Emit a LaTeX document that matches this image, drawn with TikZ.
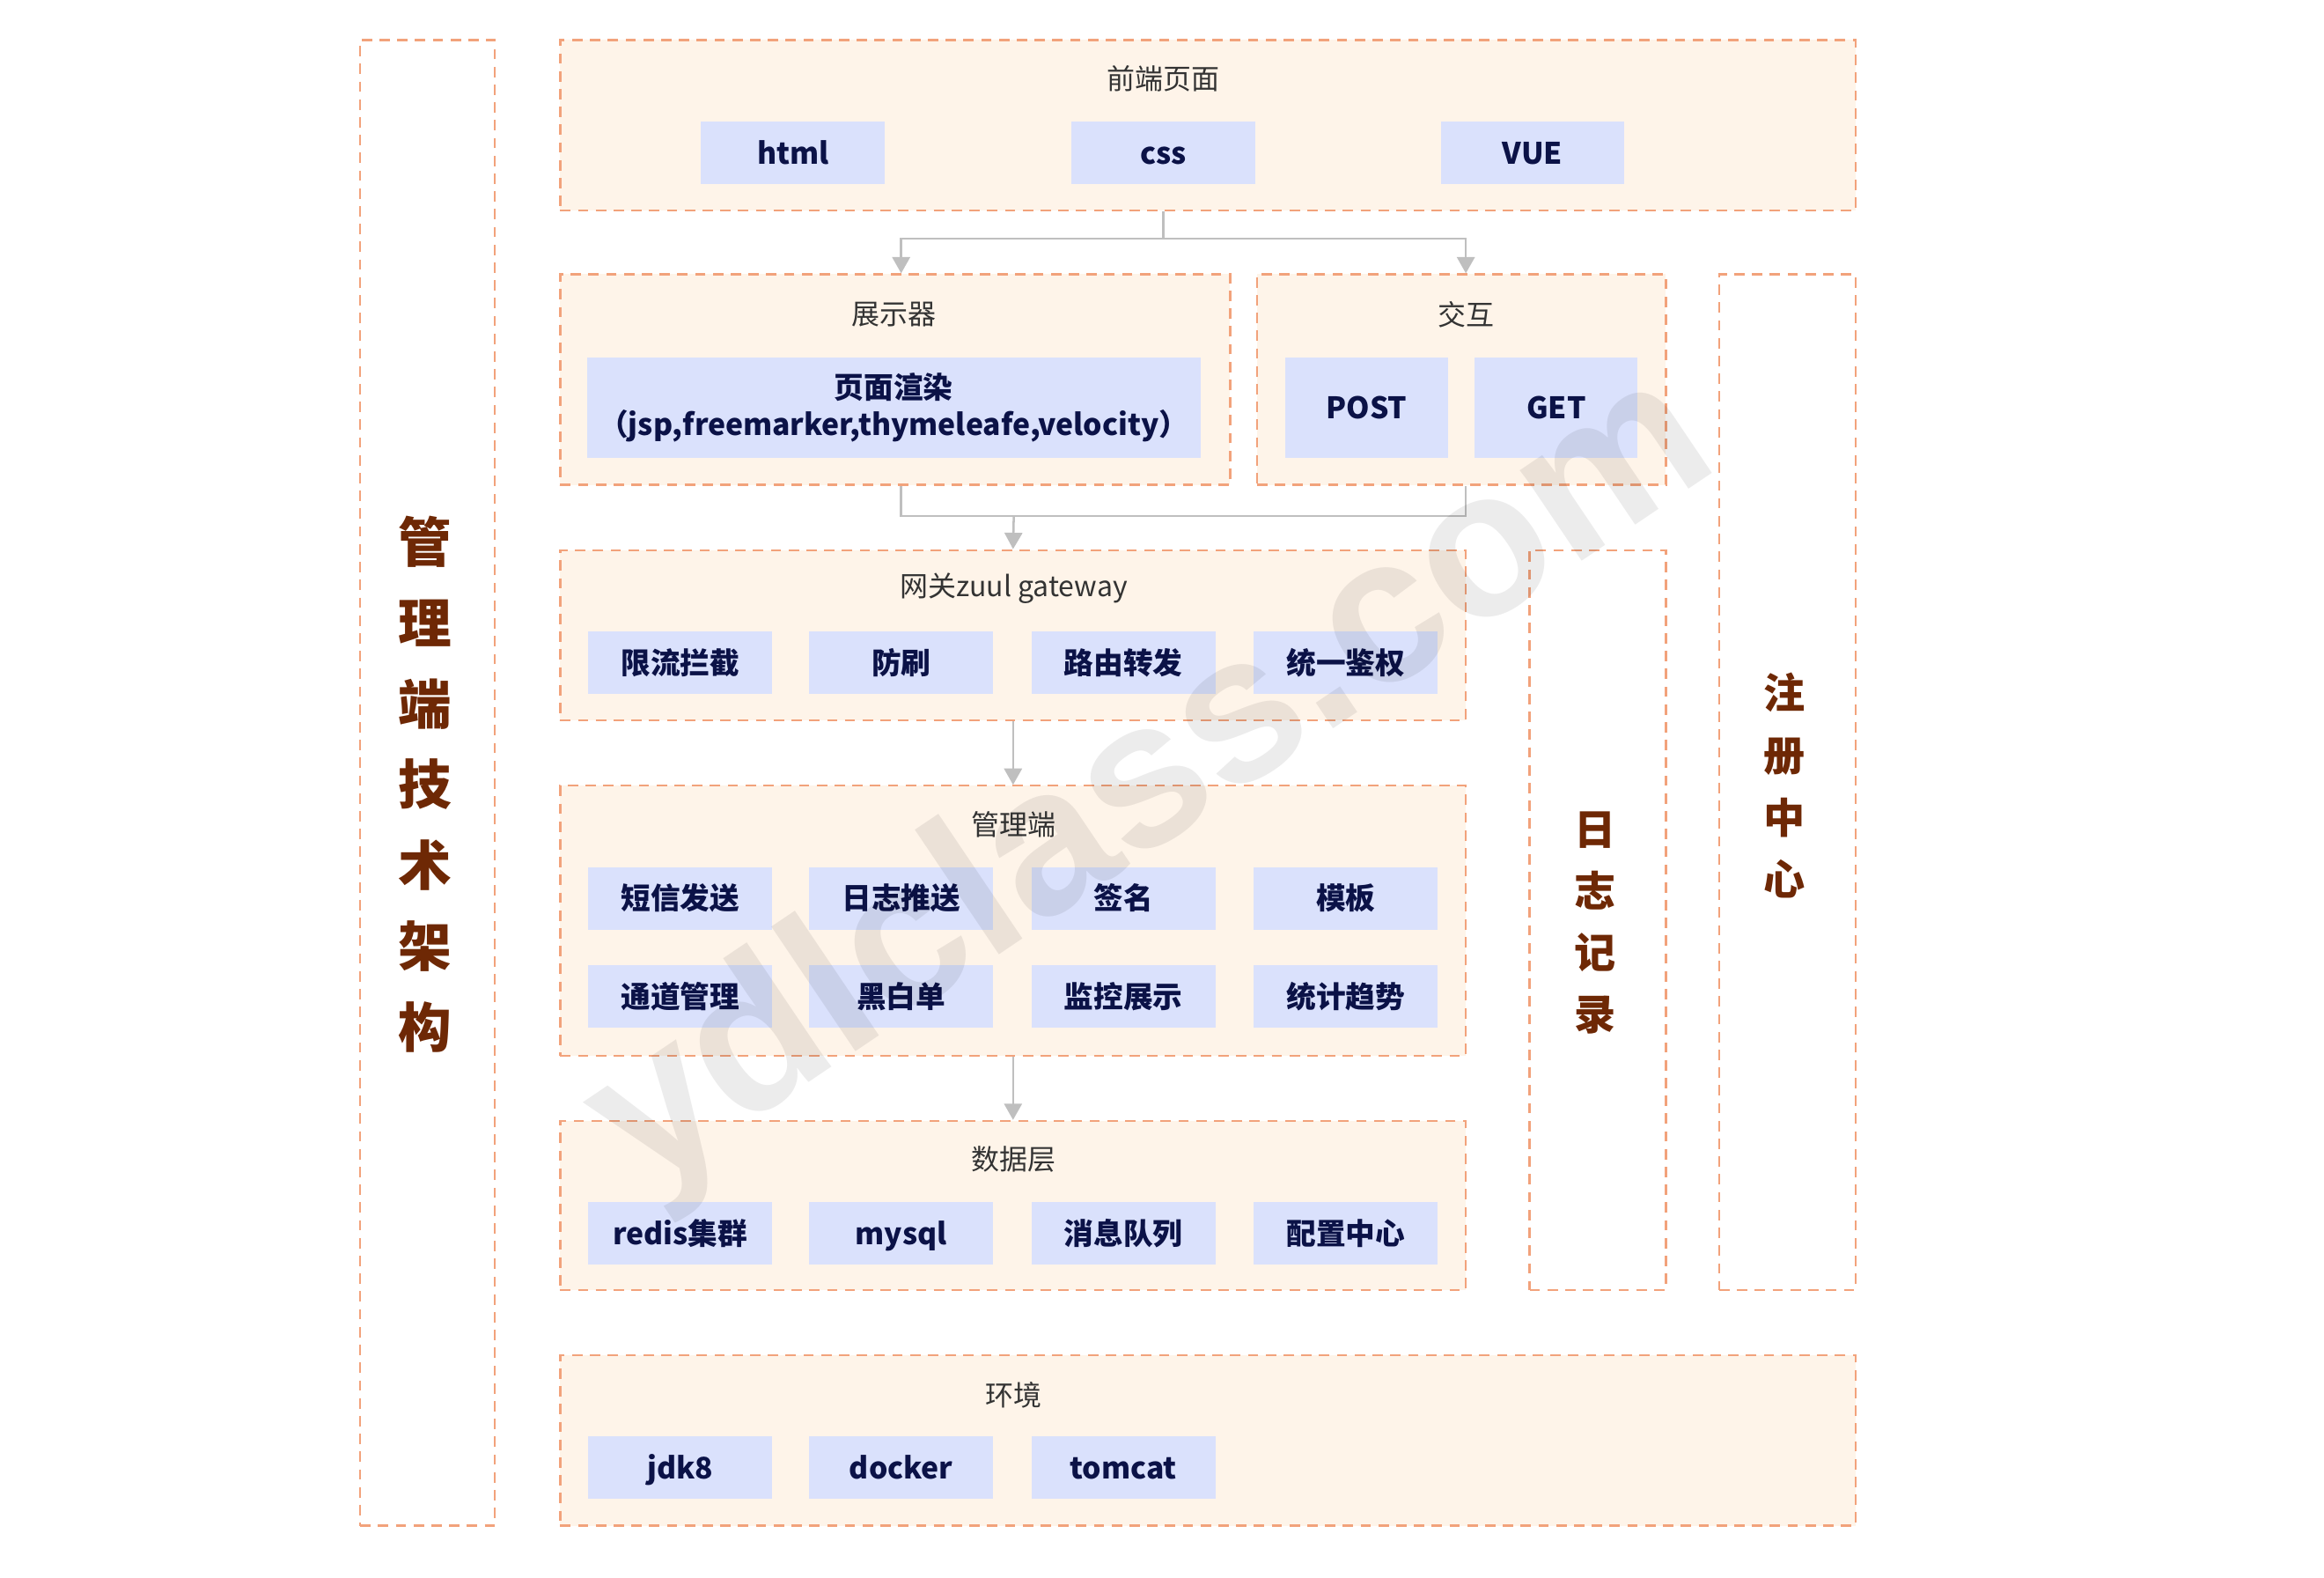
\documentclass[tikz,border=0pt]{standalone}
\usepackage{fontspec}
\setmainfont{Noto Sans CJK SC}
\newfontfamily\markfont{Liberation Sans}
\usetikzlibrary{arrows.meta}

\definecolor{layerfill}{HTML}{FEF4E9}
\definecolor{layerline}{HTML}{F2A27B}
\definecolor{itemfill}{HTML}{DAE1FC}
\definecolor{itemtext}{HTML}{0B1247}
\definecolor{sidetext}{HTML}{6E2805}
\definecolor{linkgray}{HTML}{BFBFBF}

\tikzset{
  layer/.style={draw=layerline, line width=1.3pt, dash pattern=on 7pt off 5pt,
    fill=layerfill, inner sep=0pt},
  sidebox/.style={draw=layerline, line width=1.3pt, dash pattern=on 7pt off 5pt,
    inner sep=0pt},
  itembase/.style={fill=itemfill, text=itemtext, inner sep=0pt,
    font=\fontsize{20}{25}\selectfont\bfseries,
    minimum width=124pt, minimum height=42pt},
  item/.style={itembase, text height=17.5pt, text depth=2.5pt},
  title/.style={text=black!80, font=\fontsize{19}{23}\selectfont},
  sidetitle/.style={text=sidetext, align=center},
  link/.style={draw=linkgray, line width=1.5pt},
  arr/.style={link, -{Triangle[length=11pt,width=12pt]}}
}

\begin{document}
\begin{tikzpicture}[x=1pt, y=-1pt]
  \useasboundingbox (0,0) rectangle (1568,1064);
  % layers
  \node [sidebox, minimum width=91pt, minimum height=1002pt] (mgmt) at (288.5,528) {};
  \node [layer, minimum width=874pt, minimum height=115pt] (front) at (815,84.5) {};
  \node [layer, minimum width=452pt, minimum height=142pt] (disp) at (604,256) {};
  \node [layer, minimum width=276pt, minimum height=142pt] (inter) at (986,256) {};
  \node [sidebox, minimum width=92pt, minimum height=685pt] (reg) at (1206,527.5) {};
  \node [layer, minimum width=611pt, minimum height=115pt] (gate) at (683.5,428.5) {};
  \node [sidebox, minimum width=92pt, minimum height=499pt] (log) at (1078,620.5) {};
  \node [layer, minimum width=611pt, minimum height=182pt] (admin) at (683.5,621) {};
  \node [layer, minimum width=611pt, minimum height=114pt] (data) at (683.5,813) {};
  \node [layer, minimum width=874pt, minimum height=115pt] (env) at (815,971.5) {};
  % layer titles
  \node [title] (fronttitle) at (785,53) {前端页面};
  \node [title] (disptitle) at (603,212) {展示器};
  \node [title] (intertitle) at (989,212) {交互};
  \node [title] (gatetitle) at (684,397) {网关zuul gateway};
  \node [title] (admintitle) at (684,556) {管理端};
  \node [title] (datatitle) at (684,782) {数据层};
  \node [title] (envtitle) at (684,941) {环境};
  % front end
  \node [item] (html) at (535,103) {html};
  \node [item] (css) at (785,103) {css};
  \node [item] (vue) at (1034,103) {VUE};
  % view and interaction
  \node [itembase, minimum width=414pt, minimum height=68pt, align=center] (render) at (603,275)
    {页面渲染\\（jsp,freemarker,thymeleafe,velocity）};
  \node [item, minimum width=110pt, minimum height=68pt] (post) at (922,275) {POST};
  \node [item, minimum width=110pt, minimum height=68pt] (get) at (1050,275) {GET};
  % gateway
  \node [item] (limit) at (459,447) {限流拦截};
  \node [item] (antibrush) at (608,447) {防刷};
  \node [item] (route) at (758,447) {路由转发};
  \node [item] (auth) at (908,447) {统一鉴权};
  % admin
  \node [item] (sms) at (459,606) {短信发送};
  \node [item] (logpush) at (608,606) {日志推送};
  \node [item] (sign) at (758,606) {签名};
  \node [item] (tpl) at (908,606) {模板};
  \node [item] (channel) at (459,672) {通道管理};
  \node [item] (blacklist) at (608,672) {黑白单};
  \node [item] (monitor) at (758,672) {监控展示};
  \node [item] (stats) at (908,672) {统计趋势};
  % data
  \node [item] (redis) at (459,832) {redis集群};
  \node [item] (mysql) at (608,832) {mysql};
  \node [item] (mq) at (758,832) {消息队列};
  \node [item] (config) at (908,832) {配置中心};
  % environment
  \node [item] (jdk) at (459,990) {jdk8};
  \node [item] (docker) at (608,990) {docker};
  \node [item] (tomcat) at (758,990) {tomcat};
  % side titles
  \node [sidetitle, font=\fontsize{36}{54.5}\selectfont\bfseries] (mgmttitle) at (287,529)
    {管\\理\\端\\技\\术\\架\\构};
  \node [sidetitle, font=\fontsize{28}{41.7}\selectfont\bfseries] (logtitle) at (1076,622.5)
    {日\\志\\记\\录};
  \node [sidetitle, font=\fontsize{28}{42}\selectfont\bfseries] (regtitle) at (1204,530)
    {注\\册\\中\\心};
  % connectors
  \coordinate (fork) at (785,161);
  \coordinate (join) at (684,348);
  \coordinate (dispin) at ([xshift=4pt]disp.north);
  \coordinate (dispout) at ([xshift=4pt]disp.south);
  \coordinate (interin) at ([xshift=3pt]inter.north);
  \coordinate (interout) at ([xshift=3pt]inter.south);
  \draw [link] (css |- front.south) -- (fork);
  \draw [arr] (fork) -| (dispin);
  \draw [arr] (fork) -| (interin);
  \draw [link] (dispout) |- (interout |- join) -- (interout);
  \draw [arr] (join) -- (gate.north);
  \draw [arr] (gate.south) -- (admin.north);
  \draw [arr] (admin.south) -- (data.north);
  % watermark
  \node [font=\markfont\bfseries\fontsize{140}{140}\selectfont, text=black,
    opacity=0.075, rotate=34] (mark) at (778,530) {ydlclass.com};
\end{tikzpicture}
\end{document}
